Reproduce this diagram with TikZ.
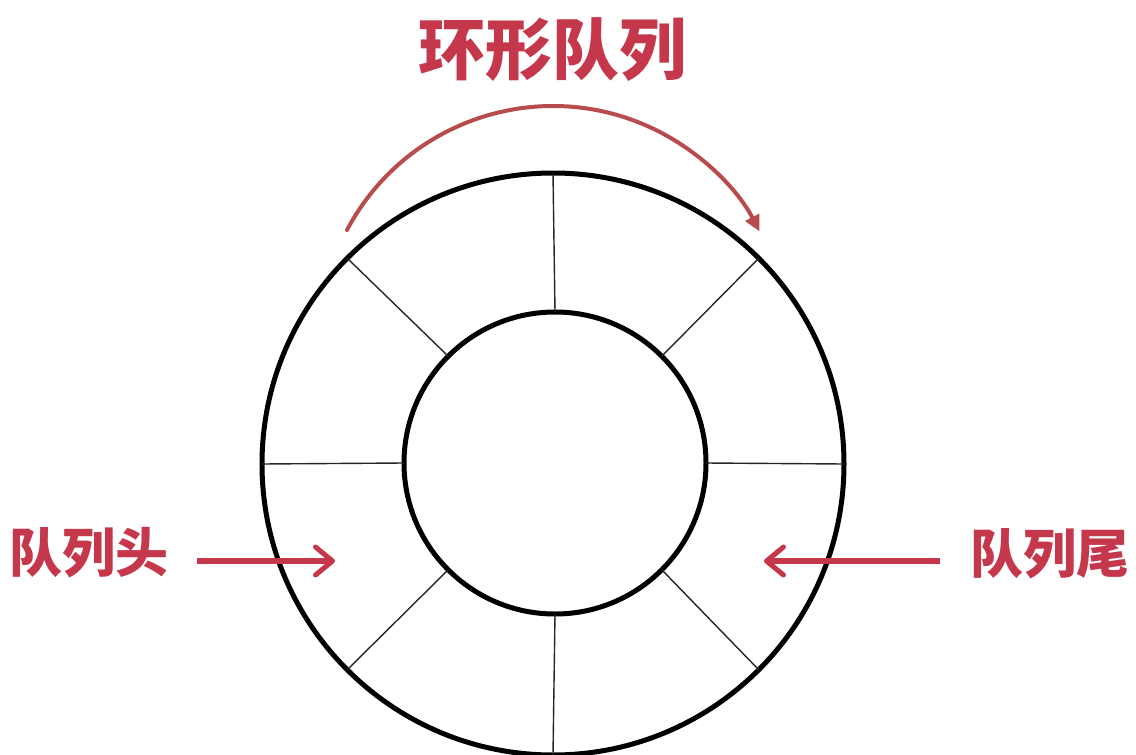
\documentclass[tikz,border=0pt]{standalone}
\usepackage{fontspec}
\newfontfamily\cjk{Noto Sans CJK SC}
\usetikzlibrary{arrows.meta}
\definecolor{qred}{RGB}{197,56,76}
\definecolor{arcred}{RGB}{184,76,76}
\begin{document}
\begin{tikzpicture}[x=1pt,y=-1pt,
  ring/.style={circle,draw=black,line width=5pt,inner sep=0pt,outer sep=0pt},
  spoke/.style={draw=black!85,line width=1.4pt},
  lbl/.style={text=qred,font=\cjk\bfseries\fontsize{53}{60}\selectfont,inner sep=0pt},
  harrow/.style={draw=qred,line width=5.5pt,-{Straight Barb[length=17pt,width=28pt,line width=5pt,round]}},
  arcarrow/.style={draw=arcred,line width=4pt,line cap=round,-{Triangle[length=16pt,width=15pt]}}]
\useasboundingbox (0,0) rectangle (1136,755);
\fill[white] (0,0) rectangle (1136,755);
\node[ring,minimum size=582pt] (outer) at (553,464) {};
\node[ring,minimum size=302pt] (inner) at (555,463) {};
\foreach \a in {0,45,...,315}{
  \draw[spoke] (inner.\a) -- (outer.\a);
}
\node[text=qred,font=\cjk\bfseries\fontsize{67}{75}\selectfont,inner sep=0pt] (title) at (552,50) {环形队列};
\node[lbl] (head) at (89,553) {队列头};
\node[lbl] (tail) at (1050,554) {队列尾};
\coordinate (hs) at (197,561);
\coordinate (he) at (335,561);
\coordinate (ts) at (940,561);
\coordinate (te) at (764,561);
\draw[harrow] (hs) -- (he);
\draw[harrow] (ts) -- (te);
\coordinate (arcstart) at (347,230);
\draw[arcarrow] (arcstart) arc[start angle=-152.1,end angle=-27.5,radius=233];
\end{tikzpicture}
\end{document}
